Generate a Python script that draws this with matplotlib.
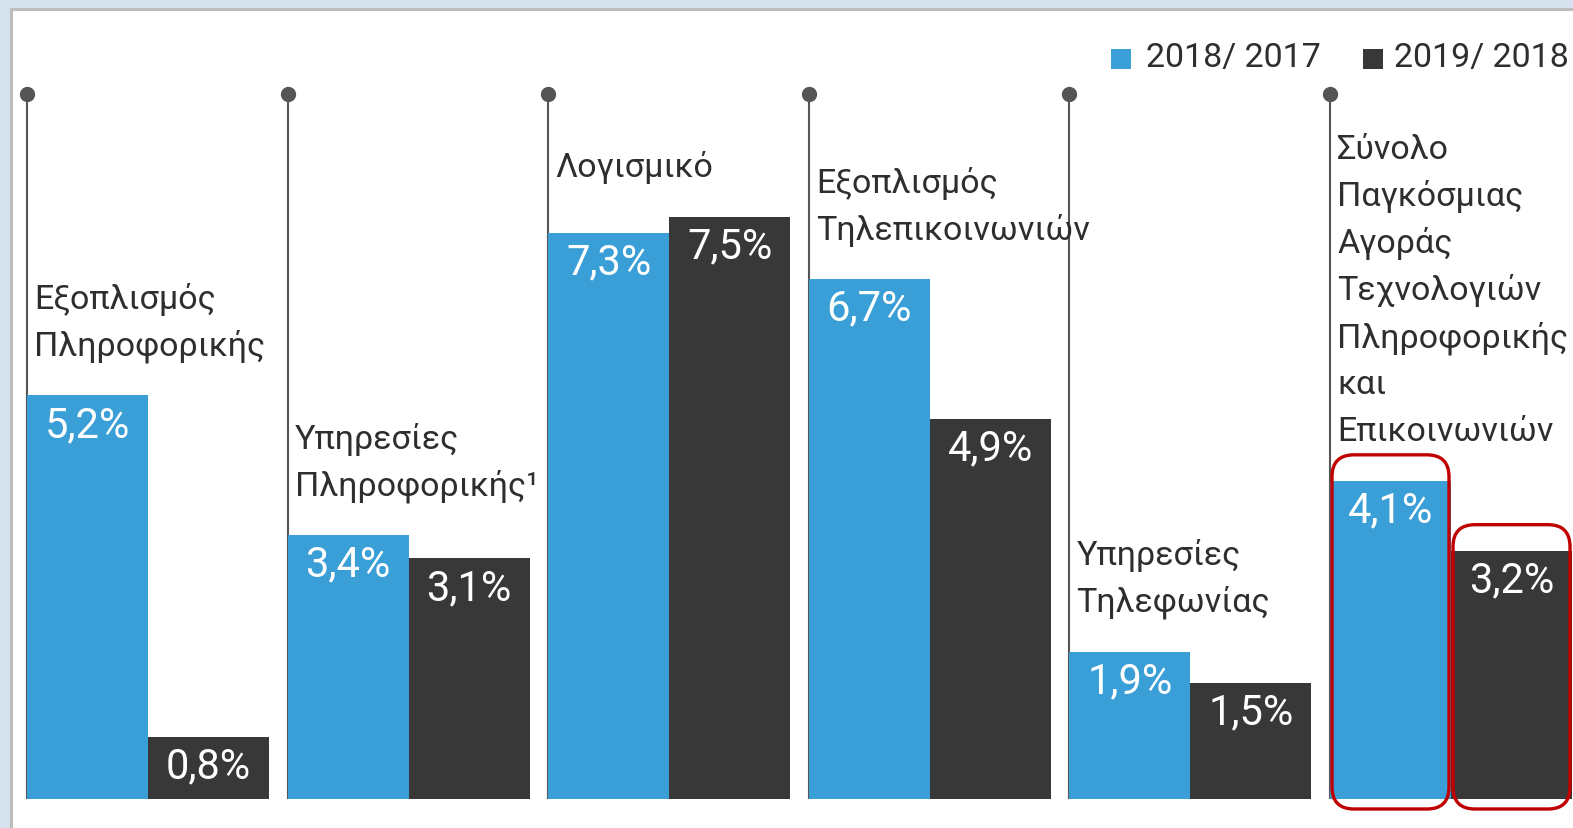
import matplotlib
matplotlib.use("Agg")
import matplotlib.pyplot as plt
from matplotlib.patches import Rectangle, FancyBboxPatch
from matplotlib.transforms import IdentityTransform

plt.rcParams['font.family'] = ['Roboto', 'DejaVu Sans']

# ---- data ----
categories = [
    ["Εξοπλισμός", "Πληροφορικής"],
    ["Υπηρεσίες", "Πληροφορικής¹"],
    ["Λογισμικό"],
    ["Εξοπλισμός", "Τηλεπικοινωνιών"],
    ["Υπηρεσίες", "Τηλεφωνίας"],
    ["Σύνολο", "Παγκόσμιας", "Αγοράς", "Τεχνολογιών", "Πληροφορικής", "και", "Επικοινωνιών"],
]
series_names = ["2018/ 2017", "2019/ 2018"]
growth_2018 = [5.2, 3.4, 7.3, 6.7, 1.9, 4.1]
growth_2019 = [0.8, 3.1, 7.5, 4.9, 1.5, 3.2]

# ---- style ----
W, H = 1573, 829
BLUE = '#3A9FD6'
DARK = '#383838'
LINE = '#555555'
RED = '#C00000'
TXT = '#2E2E2E'
PX_PER_UNIT_X = 260.6
PX_PER_PCT = 77.6
BASE_PX = 800  # baseline from top
FS_LABEL = 24.5
FS_VALUE = 30
FS_LEGEND = 24.5

fig = plt.figure(figsize=(W / 100, H / 100), dpi=100)
fig.patch.set_facecolor('#D6E3EE')
panel = Rectangle((11 / W, -0.05), 1.2, (1 - 10 / H) + 0.05, transform=fig.transFigure,
                  facecolor='white', edgecolor='#BDBDBD', linewidth=2.2, zorder=-5)
fig.patches.append(panel)

ax = fig.add_axes([0, 0, 1, 1])
ax.set_zorder(1)
ax.set_facecolor('none')
ax.axis('off')
x0 = 27
ax.set_xlim(-x0 / PX_PER_UNIT_X, (W - x0) / PX_PER_UNIT_X)
ax.set_ylim(-(H - BASE_PX) / PX_PER_PCT, BASE_PX / PX_PER_PCT)

bw = 121 / PX_PER_UNIT_X
pt = 0.72  # px -> pt
top_y = (BASE_PX - 95) / PX_PER_PCT

fmt = lambda v: f"{v:.1f}".replace('.', ',') + '%'

for i, (lines, a, b) in enumerate(zip(categories, growth_2018, growth_2019)):
    ax.vlines(i, 0, top_y, color=LINE, linewidth=1.5, zorder=1)
    ax.plot([i], [top_y], 'o', color=LINE, markersize=10, zorder=2)
    ax.bar(i, a, width=bw, align='edge', color=BLUE, zorder=3)
    ax.bar(i + bw, b, width=bw, align='edge', color=DARK, zorder=3)
    for x, v in ((i + bw / 2, a), (i + 1.5 * bw, b)):
        ax.annotate(fmt(v), (x, v), xytext=(0, -29 * pt), textcoords='offset points',
                    ha='center', va='center', color='white', fontsize=FS_VALUE, zorder=4)
    m = max(a, b)
    n = len(lines)
    for k, line in enumerate(lines):
        ax.annotate(line, (i, m), xytext=(7 * pt, (50 + 47 * (n - 1 - k)) * pt),
                    textcoords='offset points', ha='left', va='center',
                    color=TXT, fontsize=FS_LABEL, zorder=4)

# red highlight boxes around the last group
fig.canvas.draw()
last = len(growth_2018) - 1
for (xl, xr, v) in ((last, last + bw, growth_2018[last]), (last + bw, last + 2 * bw, growth_2019[last])):
    (dx0, dy0) = ax.transData.transform((xl, 0))
    (dx1, dy1) = ax.transData.transform((xr, v))
    box = FancyBboxPatch((dx0 + 2, dy0 - 10), (dx1 - dx0) - 4, (dy1 - dy0) + 36,
                         boxstyle='round,pad=0,rounding_size=22', transform=IdentityTransform(),
                         facecolor='none', edgecolor=RED, linewidth=2.4, zorder=6)
    fig.patches.append(box)

# legend
for (sq_x, tx, col, name) in ((1111, 1146, BLUE, series_names[0]), (1363, 1394, DARK, series_names[1])):
    fig.patches.append(Rectangle((sq_x / W, 1 - 70 / H), 20 / W, 20 / H, transform=fig.transFigure,
                                 facecolor=col, edgecolor='none', zorder=5))
    fig.text(tx / W, 1 - 58 / H, name, ha='left', va='center', fontsize=FS_LEGEND, color=TXT, zorder=5)

fig.savefig('out.png', dpi=100, facecolor=fig.get_facecolor())
